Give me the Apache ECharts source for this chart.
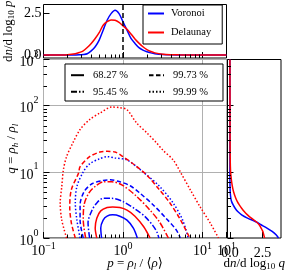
<!DOCTYPE html>
<html><head><meta charset="utf-8">
<script src="https://cdn.jsdelivr.net/npm/echarts@6/dist/echarts.min.js"></script>
<style>html,body{margin:0;padding:0;background:#fff}#c{width:287px;height:275px}</style>
</head><body><div id="c"></div>
<script>
const FONT = '"Liberation Serif", "DejaVu Serif", serif';

// ---- top panel: dn/dlog10 p versus log10 p ----
const logPGrid = [-1.0,-0.9,-0.8,-0.7,-0.6,-0.55,-0.5,-0.45,-0.4,-0.35,-0.3,-0.25,-0.2,-0.15,-0.1,-0.05,0,0.05,0.1,0.15,0.2,0.25,0.3,0.35,0.4,0.5,0.6,0.7,0.8,1.0,1.3];
const voronoiDnDlogP  = [0,0,0,0,0.005,0.01,0.03,0.08,0.25,0.5,0.9,1.5,2.1,2.5,2.7,2.5,2.0,1.5,1.0,0.7,0.45,0.3,0.2,0.13,0.08,0.03,0.01,0.005,0,0,0];
const delaunayDnDlogP = [0,0,0.005,0.02,0.08,0.15,0.25,0.45,0.7,1.0,1.35,1.8,2.02,2.12,2.1,1.97,1.76,1.55,1.27,0.97,0.72,0.5,0.33,0.21,0.13,0.05,0.02,0.01,0.005,0,0];

// ---- right panel: dn/dlog10 q versus log10 q ----
const logQGrid = [0,0.05,0.1,0.15,0.2,0.25,0.3,0.35,0.4,0.45,0.5,0.55,0.6,0.7,0.8,0.9,1.0,1.2,1.5,2.0,2.7];
const voronoiDnDlogQ  = [3.74,3.55,3.25,2.85,2.4,1.95,1.35,0.9,0.6,0.4,0.25,0.13,0.07,0.02,0.005,0,0,0,0,0,0];
const delaunayDnDlogQ = [2.67,2.6,2.53,2.4,2.25,2.0,1.65,1.35,1.1,0.9,0.72,0.57,0.45,0.28,0.17,0.1,0.05,0.02,0.01,0.005,0];

// ---- main panel contours, points as [log10 p, log10 q] ----
const voronoi6827 = [[-0.27,0],[-0.28,0.15],[-0.25,0.27],[-0.20,0.33],[-0.13,0.35],[-0.04,0.33],[0.05,0.27],[0.13,0.15],[0.18,0]];
const voronoi9545 = [[-0.42,0],[-0.44,0.23],[-0.39,0.42],[-0.33,0.53],[-0.25,0.60],[-0.14,0.60],[0.0,0.55],[0.15,0.44],[0.28,0.32],[0.38,0.18],[0.43,0.08],[0.45,0]];
const voronoi9973 = [[-0.50,0],[-0.54,0.27],[-0.54,0.5],[-0.49,0.7],[-0.39,0.82],[-0.25,0.87],[-0.16,0.88],[-0.04,0.85],[0.09,0.79],[0.21,0.68],[0.38,0.5],[0.54,0.3],[0.67,0.12],[0.72,0]];
const voronoi9999 = [[-0.54,0],[-0.58,0.27],[-0.60,0.53],[-0.58,0.78],[-0.50,1.0],[-0.42,1.12],[-0.29,1.2],[-0.2,1.23],[-0.1,1.21],[0.05,1.18],[0.25,1.0],[0.46,0.78],[0.63,0.53],[0.75,0.27],[0.82,0]];
const delaunay6827 = [[-0.33,0],[-0.35,0.15],[-0.33,0.30],[-0.28,0.41],[-0.20,0.46],[-0.13,0.47],[-0.04,0.46],[0.05,0.42],[0.15,0.33],[0.26,0.17],[0.34,0]];
const delaunay9545 = [[-0.47,0],[-0.50,0.27],[-0.49,0.5],[-0.43,0.68],[-0.34,0.79],[-0.24,0.85],[-0.14,0.85],[-0.01,0.80],[0.17,0.63],[0.34,0.42],[0.46,0.24],[0.57,0]];
const delaunay9973 = [[-0.60,0],[-0.65,0.23],[-0.67,0.47],[-0.65,0.73],[-0.56,0.98],[-0.54,1.08],[-0.42,1.23],[-0.29,1.30],[-0.20,1.31],[-0.10,1.30],[0.0,1.23],[0.15,1.1],[0.30,0.95],[0.45,0.74],[0.59,0.53],[0.72,0.28],[0.84,0]];
const delaunay9999 = [[-0.71,0],[-0.77,0.27],[-0.79,0.53],[-0.77,0.78],[-0.75,1.03],[-0.71,1.23],[-0.63,1.44],[-0.54,1.64],[-0.42,1.79],[-0.29,1.89],[-0.14,1.98],[-0.04,1.97],[0.05,1.94],[0.17,1.74],[0.30,1.59],[0.42,1.44],[0.50,1.33],[0.63,1.18],[0.72,1.0],[0.85,0.72],[0.97,0.47],[1.1,0.22],[1.2,0]];

const levelNames = ['68.27 %','95.45 %','99.73 %','99.99 %'];
const seriesNames = ['Voronoi','Delaunay'];

// ---- ticks ----
const densityTicks = [0, 2.5];
const pMinorTicks = [0.2,0.3,0.4,0.5,0.6,0.7,0.8,0.9,2,3,4,5,6,7,8,9];
const qMinorTicks = [2,3,4,5,6,7,8,9,20,30,40,50,60,70,80,90,200,300,400];

const BLUE = '#0000ff', RED = '#ff0000';
const dashStyles = ['solid', [6,2,1.5,2], [4.5,2.5], [1.5,2]];

const toPQ = arr => arr.map(d => [Math.pow(10, d[0]), Math.pow(10, d[1])]);

const richX = {
  b: {fontSize: 14, lineHeight: 14},
  e: {fontSize: 10, lineHeight: 10, padding: [0,0,10,0]}
};
const richY = {
  b: {fontSize: 14, lineHeight: 14, padding: [6,0,0,0]},
  e: {fontSize: 10, lineHeight: 10, padding: [0,0,10,0]}
};
const expLabel = v => {
  const e = Math.round(Math.log10(v));
  return '{b|10}{e|' + (e < 0 ? '\u2212' : '') + Math.abs(e) + '}';
};
const nameStyle = {
  fontFamily: FONT, fontSize: 13, color: '#000',
  rich: {
    i: {fontStyle: 'italic', fontSize: 13},
    s: {fontStyle: 'italic', fontSize: 9, lineHeight: 9, padding: [7,0,0,0]},
    r: {fontSize: 9, lineHeight: 9, padding: [7,0,0,0]}
  }
};

function minorTicks(xi, yi, values, dir, ref) {
  return {
    type: 'custom', xAxisIndex: xi, yAxisIndex: yi, silent: true, z: 10, clip: false,
    data: values.map(v => dir === 'up' ? [v, ref] : [ref, v]),
    renderItem(params, api) {
      const cs = params.coordSys;
      const p = api.coord([api.value(0), api.value(1)]);
      let shape;
      if (dir === 'up') {
        const x = Math.round(p[0]) + 0.5;
        shape = {x1: x, y1: cs.y + cs.height, x2: x, y2: cs.y + cs.height - 3.5};
      } else {
        const y = Math.round(p[1]) + 0.5;
        shape = {x1: cs.x, y1: y, x2: cs.x + 3.5, y2: y};
      }
      return {type: 'line', shape, style: {stroke: '#000', lineWidth: 1}};
    }
  };
}

const gridCommon = {show: true, borderColor: '#000', borderWidth: 1, backgroundColor: 'transparent',
                    containLabel: false, outerBoundsMode: 'none'};
const tickCommon = {show: true, inside: true, length: 6, lineStyle: {color: '#000', width: 1}};
const noLine = {show: false, onZero: false};

const contourSets = [
  {name: 'Voronoi', color: BLUE, data: [voronoi6827, voronoi9545, voronoi9973, voronoi9999]},
  {name: 'Delaunay', color: RED, data: [delaunay6827, delaunay9545, delaunay9973, delaunay9999]}
];
const contourSeries = [];
contourSets.forEach(set => {
  set.data.forEach((c, k) => {
    contourSeries.push({
      type: 'line', name: set.name + ' ' + levelNames[k], xAxisIndex: 1, yAxisIndex: 1,
      data: toPQ(c), symbol: 'none', smooth: 0.3, silent: true, z: 3,
      lineStyle: {color: set.color, width: 1.5, type: dashStyles[k]}
    });
  });
});
const levelLegendSeries = levelNames.map((n, k) => ({
  type: 'line', name: n, xAxisIndex: 1, yAxisIndex: 1, data: [], symbol: 'none',
  itemStyle: {color: '#000'}, lineStyle: {color: '#000', width: 1.5, type: dashStyles[k]}
}));
const hiddenSymbol = {color: 'rgba(0,0,0,0)', borderColor: 'rgba(0,0,0,0)', borderWidth: 0};

const chart = echarts.init(document.getElementById('c'), null, {renderer: 'canvas'});
chart.setOption({
  animation: false,
  backgroundColor: '#fff',
  textStyle: {fontFamily: FONT},
  grid: [
    Object.assign({left: 43.5, top: 4.5, width: 183, height: 53.5}, gridCommon),
    Object.assign({left: 43.5, top: 59.5, width: 183, height: 178.5}, gridCommon),
    Object.assign({left: 227.5, top: 59.5, width: 53.5, height: 178.5}, gridCommon)
  ],
  xAxis: [
    {gridIndex: 0, type: 'log', logBase: 10, min: 0.1, max: 20, axisLine: noLine,
     axisTick: tickCommon, axisLabel: {show: false}, splitLine: {show: false}},
    {gridIndex: 1, type: 'log', logBase: 10, min: 0.1, max: 20, axisLine: noLine,
     axisTick: tickCommon,
     axisLabel: {margin: 6, formatter: expLabel, rich: richX, fontFamily: FONT, color: '#000'},
     splitLine: {show: true, lineStyle: {color: '#b0b0b0', width: 1}},
     name: '{i|p} = {i|\u03c1}{s|l} / \u27e8{i|\u03c1}\u27e9', nameLocation: 'middle', nameGap: 19,
     nameMoveOverlap: false, nameTextStyle: nameStyle},
    {gridIndex: 2, type: 'value', min: -0.187, max: 3.93, axisLine: noLine,
     axisTick: Object.assign({customValues: densityTicks}, tickCommon),
     axisLabel: {customValues: densityTicks, margin: 8, fontSize: 14, fontFamily: FONT, color: '#000',
                 formatter: v => v.toFixed(1)},
     splitLine: {show: false},
     name: 'd{i|n}/d log{r|10} {i|q}', nameLocation: 'middle', nameGap: 19,
     nameMoveOverlap: false, nameTextStyle: nameStyle}
  ],
  yAxis: [
    {gridIndex: 0, type: 'value', min: -0.18, max: 3.05, axisLine: noLine,
     axisTick: Object.assign({customValues: densityTicks}, tickCommon),
     axisLabel: {customValues: densityTicks, margin: 2, fontSize: 14, fontFamily: FONT, color: '#000',
                 formatter: v => v.toFixed(1)},
     splitLine: {show: false},
     name: 'd{i|n}/d log{r|10} {i|p}', nameLocation: 'middle', nameGap: 28.5,
     nameMoveOverlap: false, nameTextStyle: nameStyle},
    {gridIndex: 1, type: 'log', logBase: 10, min: 1, max: 500, axisLine: noLine,
     axisTick: tickCommon,
     axisLabel: {margin: 5, formatter: expLabel, rich: richY, fontFamily: FONT, color: '#000'},
     splitLine: {show: true, lineStyle: {color: '#b0b0b0', width: 1}},
     name: '{i|q} = {i|\u03c1}{s|h} / {i|\u03c1}{s|l}', nameLocation: 'middle', nameGap: 25,
     nameMoveOverlap: false, nameTextStyle: nameStyle},
    {gridIndex: 2, type: 'log', logBase: 10, min: 1, max: 500, axisLine: noLine,
     axisTick: tickCommon, axisLabel: {show: false}, splitLine: {show: false}}
  ],
  legend: [
    {data: seriesNames, orient: 'vertical', left: 143, top: 5, padding: [3, 11, 6, 4],
     itemWidth: 16, itemHeight: 12, itemGap: 8, selectedMode: false, itemStyle: hiddenSymbol,
     borderColor: '#000', borderWidth: 1, borderRadius: 0, backgroundColor: '#fff',
     textStyle: {fontFamily: FONT, fontSize: 10.5, color: '#000', padding: [0,0,0,2]}},
    {data: [levelNames[0], levelNames[1]], orient: 'vertical', left: 65, top: 64, padding: [5.7, 95, 3.7, 5],
     itemWidth: 13, itemHeight: 12, itemGap: 5.6, selectedMode: false, itemStyle: hiddenSymbol,
     borderColor: '#000', borderWidth: 1, borderRadius: 0, backgroundColor: '#fff',
     textStyle: {fontFamily: FONT, fontSize: 10.5, color: '#000', padding: [0,0,0,4]}},
    {data: [levelNames[2], levelNames[3]], orient: 'vertical', left: 148, top: 69.7, padding: 0,
     itemWidth: 15, itemHeight: 12, itemGap: 5.6, selectedMode: false, z: 6, itemStyle: hiddenSymbol,
     textStyle: {fontFamily: FONT, fontSize: 10.5, color: '#000', padding: [0,0,0,4]}}
  ],
  series: [
    {type: 'line', name: 'Voronoi', xAxisIndex: 0, yAxisIndex: 0, symbol: 'none', smooth: 0.3,
     data: logPGrid.map((lp, i) => [Math.pow(10, lp), voronoiDnDlogP[i]]),
     itemStyle: {color: BLUE}, lineStyle: {color: BLUE, width: 1.5},
     markLine: {silent: true, symbol: ['none','none'], label: {show: false},
                lineStyle: {color: '#000', type: [5,3], width: 1.5}, data: [{xAxis: 1}]}},
    {type: 'line', name: 'Delaunay', xAxisIndex: 0, yAxisIndex: 0, symbol: 'none', smooth: 0.3,
     data: logPGrid.map((lp, i) => [Math.pow(10, lp), delaunayDnDlogP[i]]),
     itemStyle: {color: RED}, lineStyle: {color: RED, width: 1.5}},
    {type: 'line', name: 'Voronoi q', xAxisIndex: 2, yAxisIndex: 2, symbol: 'none', smooth: 0.3,
     data: logQGrid.map((lq, i) => [voronoiDnDlogQ[i], Math.pow(10, lq)]),
     lineStyle: {color: BLUE, width: 1.5}},
    {type: 'line', name: 'Delaunay q', xAxisIndex: 2, yAxisIndex: 2, symbol: 'none', smooth: 0.3,
     data: logQGrid.map((lq, i) => [delaunayDnDlogQ[i], Math.pow(10, lq)]),
     lineStyle: {color: RED, width: 1.5}},
    ...contourSeries,
    ...levelLegendSeries,
    minorTicks(0, 0, pMinorTicks, 'up', 0),
    minorTicks(1, 1, pMinorTicks, 'up', 1),
    minorTicks(1, 1, qMinorTicks, 'right', 1),
    minorTicks(2, 2, qMinorTicks, 'right', 1)
  ]
});
</script>
</body></html>
